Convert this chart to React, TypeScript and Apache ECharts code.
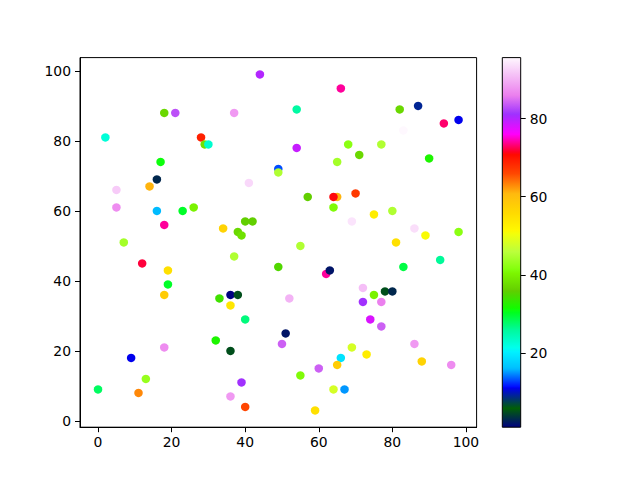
import React, { useEffect, useRef } from "react";
import * as echarts from "echarts";

// Scatter data (x, y, colour value)
const xs = [18, 21, 2, 28, 29, 30, 17, 16, 14, 5, 5, 16, 23, 26, 18, 34, 7, 12, 19, 19, 18, 33, 32, 18, 9, 13, 0, 11, 36, 40, 36, 51, 50, 39, 36, 40, 55, 60, 59, 64, 67, 66, 65, 69, 74, 77, 73, 86, 88, 96, 65, 64, 70, 69, 75, 80, 86, 89, 81, 98, 83, 93, 72, 75, 78, 80, 72, 77, 41, 57, 64, 40, 42, 38, 39, 55, 37, 49, 62, 63, 52, 36, 38, 44, 66, 37, 54, 54, 68, 65, 49, 49, 82, 87, 94, 98, 83, 71, 77, 90];
const ys = [88, 88, 81, 81, 79, 79, 74, 69, 67, 66, 61, 60, 60, 61, 56, 55, 51, 45, 43, 39, 36, 35, 23, 21, 18, 12, 9, 8, 33, 29, 20, 25, 22, 11, 7, 4, 13, 15, 3, 9, 9, 18, 16, 21, 29, 27, 19, 22, 17, 16, 64, 64, 65, 57, 59, 60, 55, 53, 51, 54, 44, 46, 38, 36, 37, 37, 34, 34, 68, 64, 61, 57, 57, 54, 53, 50, 47, 44, 42, 43, 35, 36, 36, 99, 95, 88, 89, 78, 79, 74, 72, 71, 89, 90, 85, 86, 83, 76, 79, 75];
const cs = [37, 83, 22.5, 69, 38, 23, 31, 3, 61, 92, 87, 16, 30, 40, 74, 57, 44, 72, 55, 30, 58, 34, 32, 87, 11, 43, 28, 63, 54, 27, 5, 2, 84, 81, 88, 66, 41, 84, 55, 48, 15, 19, 58, 48, 78, 84, 53, 88, 57, 87, 61, 71, 67, 94, 53, 45, 93.5, 51, 55, 42, 29, 26, 91, 40, 5, 3, 81, 86, 93, 36, 41, 36, 36, 37, 38, 45, 45, 35, 74, 2, 90, 1, 5, 80, 74, 88, 25.5, 79, 42, 44, 13, 45, 37, 9, 73, 11, 95.6, 37, 45, 32];

const xTicks = [0, 20, 40, 60, 80, 100];
const yTicks = [0, 20, 40, 60, 80, 100];
const cTicks = [20, 40, 60, 80];

// matplotlib gist_ncar colormap definition
const R: number[][] = [[0, 0], [0.3098, 0], [0.3725, 0.3993], [0.4235, 0.5003], [0.5333, 1], [0.7922, 1], [0.8471, 0.6218], [0.898, 0.9235], [1, 0.9961]];
const G: number[][] = [[0, 0], [0.051, 0.3722], [0.1059, 0], [0.1569, 0.7202], [0.1608, 0.7537], [0.1647, 0.7752], [0.2157, 1], [0.2588, 0.9804], [0.2706, 0.9804], [0.3176, 1], [0.3686, 0.8081], [0.4275, 1], [0.5216, 1], [0.6314, 0.7292], [0.6863, 0.2796], [0.7451, 0], [0.7922, 0], [0.8431, 0.1753], [0.898, 0.5], [1, 0.9725]];
const B: number[][] = [[0, 0.502], [0.051, 0.0222], [0.1098, 1], [0.2039, 1], [0.2627, 0.6145], [0.3216, 0], [0.4157, 0], [0.4745, 0.2342], [0.5333, 0], [0.5804, 0], [0.6314, 0.0549], [0.6902, 0], [0.7373, 0], [0.7922, 0.9738], [0.8, 1], [0.8431, 1], [0.898, 0.9341], [1, 0.9961]];

function seg(stops: number[][], t: number): number {
  for (let i = 1; i < stops.length; i++) {
    if (t <= stops[i][0]) {
      const [t0, v0] = stops[i - 1];
      const [t1, v1] = stops[i];
      return v0 + ((t - t0) / (t1 - t0)) * (v1 - v0);
    }
  }
  return stops[stops.length - 1][1];
}
function cmap(t: number): string {
  const f = (v: number) => Math.round(Math.max(0, Math.min(1, v)) * 255);
  return `rgb(${f(seg(R, t))},${f(seg(G, t))},${f(seg(B, t))})`;
}

const N = 256;
const palette: string[] = Array.from({ length: N }, (_, i) => cmap(i / (N - 1)));

export default function App() {
  const ref = useRef<HTMLDivElement>(null);
  useEffect(() => {
    if (!ref.current) return;
    const chart = echarts.init(ref.current, null, { renderer: "svg" });
    const vmin = Math.min(...cs);
    const vmax = Math.max(...cs);
    const font = "DejaVu Sans";
    const fs = 13.9;
    const cb = { x: 502.3, y: 57.6, w: 18.4, h: 369.6 };
    chart.setOption({
      animation: false,
      backgroundColor: "#fff",
      grid: [
        { left: 80, top: 57.6, width: 396.6, height: 369.6, show: true, borderColor: "#000", borderWidth: 1, backgroundColor: "transparent" },
        { left: cb.x, top: cb.y, width: cb.w, height: cb.h, show: false },
      ],
      xAxis: [
        {
          type: "value", gridIndex: 0, min: -4.9, max: 102.9,
          axisLine: { show: true, onZero: false, lineStyle: { color: "#000" } },
          axisTick: { show: true, length: 5, lineStyle: { color: "#000" }, customValues: xTicks },
          axisLabel: { color: "#000", fontFamily: font, fontSize: fs, margin: 8, customValues: xTicks },
          splitLine: { show: false },
        },
        { type: "value", gridIndex: 1, show: false, min: 0, max: 1 },
      ],
      yAxis: [
        {
          type: "value", gridIndex: 0, min: -1.8, max: 103.8,
          axisLine: { show: true, onZero: false, lineStyle: { color: "#000" } },
          axisTick: { show: true, length: 5, lineStyle: { color: "#000" }, customValues: yTicks },
          axisLabel: { color: "#000", fontFamily: font, fontSize: fs, margin: 9, customValues: yTicks },
          splitLine: { show: false },
        },
        {
          type: "value", gridIndex: 1, position: "right", min: vmin, max: vmax,
          axisLine: { show: false, onZero: false },
          axisTick: { show: true, length: 5, lineStyle: { color: "#000" }, customValues: cTicks },
          axisLabel: { color: "#000", fontFamily: font, fontSize: fs, margin: 9, customValues: cTicks },
          splitLine: { show: false },
        },
      ],
      visualMap: {
        type: "continuous", show: false, dimension: 2, seriesIndex: 0,
        min: vmin, max: vmax, inRange: { color: palette },
      },
      graphic: [
        {
          type: "rect", z: 1,
          shape: { x: cb.x, y: cb.y, width: cb.w, height: cb.h },
          style: {
            fill: new echarts.graphic.LinearGradient(0, 1, 0, 0,
              palette.map((c, i) => ({ offset: i / (N - 1), color: c }))),
          },
        },
        {
          type: "rect", z: 2,
          shape: { x: cb.x, y: cb.y, width: cb.w, height: cb.h },
          style: { fill: "none", stroke: "#000", lineWidth: 1 },
        },
      ],
      series: [
        {
          type: "scatter", xAxisIndex: 0, yAxisIndex: 0,
          symbolSize: 8.5,
          itemStyle: { opacity: 1 },
          data: xs.map((x, i) => [x, ys[i], cs[i]]),
        },
      ],
    });
    return () => chart.dispose();
  }, []);
  return <div ref={ref} style={{ position: "fixed", left: 0, top: 0, width: 640, height: 480 }} />;
}
